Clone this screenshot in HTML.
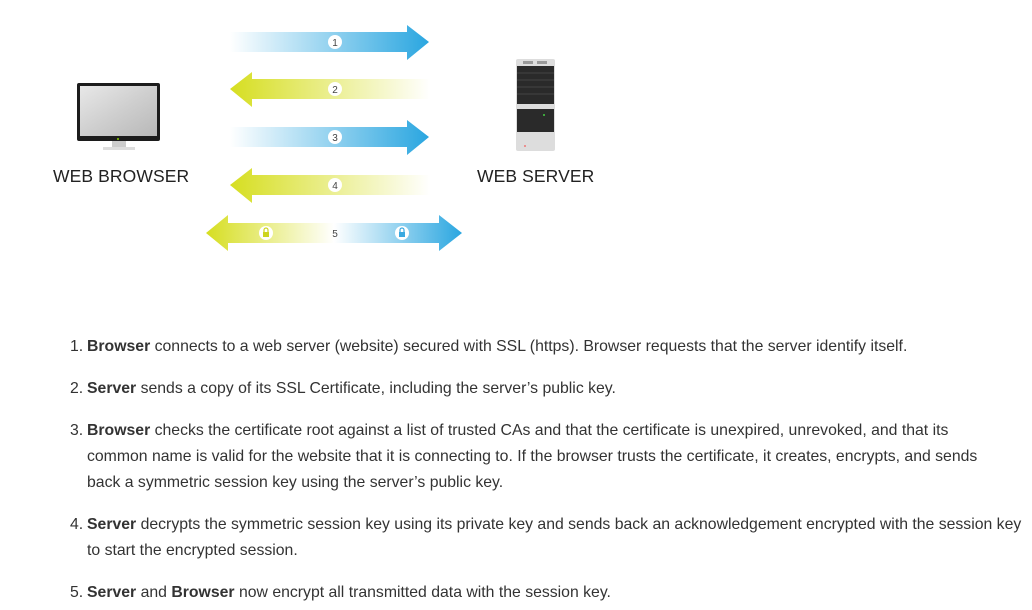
<!DOCTYPE html>
<html><head><meta charset="utf-8"><style>
body{margin:0;width:1032px;height:610px;background:#fff;position:relative;overflow:hidden;font-family:"Liberation Sans",sans-serif;color:#333}
.lbl{position:absolute;font-size:17.5px;color:#222;letter-spacing:0.1px}
.t{position:absolute;left:70px;font-size:15.8px;line-height:26px;color:#333;white-space:nowrap}
.t .n{position:absolute;left:0}
.t .c{position:absolute;left:17px}
</style></head><body>
<svg width="1032" height="300" style="position:absolute;left:0;top:0">
<defs>
<linearGradient id="b" x1="0" x2="1"><stop offset="0" stop-color="#fff"/><stop offset="1" stop-color="#2aa6e0"/></linearGradient>
<linearGradient id="y" x1="0" x2="1"><stop offset="0" stop-color="#d6de20"/><stop offset="1" stop-color="#fff"/></linearGradient>
<linearGradient id="m" x1="0" x2="1"><stop offset="0" stop-color="#d6de20"/><stop offset="0.5" stop-color="#fff"/><stop offset="1" stop-color="#2aa6e0"/></linearGradient>
<linearGradient id="scr" x1="0" y1="0" x2="1" y2="1"><stop offset="0" stop-color="#e8e8e8"/><stop offset="0.5" stop-color="#cfcfcf"/><stop offset="1" stop-color="#b8b8b8"/></linearGradient>
</defs>
<polygon points="230,32 407,32 407,25 429,42 407,60 407,52 230,52" fill="url(#b)"/>
<polygon points="430,79 252,79 252,72 230,89 252,107 252,99 430,99" fill="url(#y)"/>
<polygon points="230,127 407,127 407,120 429,137 407,155 407,147 230,147" fill="url(#b)"/>
<polygon points="430,175 252,175 252,168 230,185 252,203 252,195 430,195" fill="url(#y)"/>
<polygon points="228,223 439,223 439,215 462,233 439,251 439,243 228,243 228,251 206,233 228,215" fill="url(#m)"/>
<g font-family="Liberation Sans" font-size="10" text-anchor="middle" fill="#444">
<circle cx="335" cy="42" r="7" fill="#fff"/><text x="335" y="46">1</text>
<circle cx="335" cy="89" r="7" fill="#fff"/><text x="335" y="93">2</text>
<circle cx="335" cy="137" r="7" fill="#fff"/><text x="335" y="141">3</text>
<circle cx="335" cy="185" r="7" fill="#fff"/><text x="335" y="189">4</text>
<text x="335" y="237">5</text>
</g>
<circle cx="266" cy="233" r="7" fill="#fff"/><rect x="263" y="232" width="6" height="5" fill="#cdd420"/><path d="M264,232v-2a2,2 0 0 1 4,0v2" stroke="#cdd420" fill="none" stroke-width="1.2"/>
<circle cx="402" cy="233" r="7" fill="#fff"/><rect x="399" y="232" width="6" height="5" fill="#3aa9e0"/><path d="M400,232v-2a2,2 0 0 1 4,0v2" stroke="#3aa9e0" fill="none" stroke-width="1.2"/>
<rect x="77" y="83" width="83" height="58" rx="2" fill="#1c1c1c"/>
<rect x="80" y="86" width="77" height="50" fill="url(#scr)"/>
<rect x="112" y="141" width="14" height="6" fill="#ccc"/>
<rect x="103" y="147" width="32" height="3" fill="#ddd"/>
<circle cx="118" cy="139" r="1" fill="#8c0"/>
<rect x="516" y="59" width="39" height="92" rx="2" fill="#ddd"/>
<rect x="517" y="66" width="37" height="38" fill="#2a2a2a"/>
<g stroke="#444" stroke-width="1"><line x1="517" y1="73" x2="554" y2="73"/><line x1="517" y1="80" x2="554" y2="80"/><line x1="517" y1="87" x2="554" y2="87"/><line x1="517" y1="94" x2="554" y2="94"/></g>
<rect x="517" y="109" width="37" height="23" fill="#2a2a2a"/>
<rect x="523" y="61" width="10" height="3" fill="#999"/><rect x="537" y="61" width="10" height="3" fill="#999"/>
<circle cx="544" cy="115" r="1" fill="#4c4"/><circle cx="525" cy="146" r="1" fill="#e77"/>
</svg>
<div class="lbl" style="left:53px;top:166px">WEB BROWSER</div>
<div class="lbl" style="left:477px;top:166px">WEB SERVER</div>
<div class="t" style="top:334px"><span class="n">1.</span><span class="c"><b>Browser</b> connects to a web server (website) secured with SSL (https). Browser requests that the server identify itself.</span></div>
<div class="t" style="top:376px"><span class="n">2.</span><span class="c"><b>Server</b> sends a copy of its SSL Certificate, including the server’s public key.</span></div>
<div class="t" style="top:418px"><span class="n">3.</span><span class="c"><b>Browser</b> checks the certificate root against a list of trusted CAs and that the certificate is unexpired, unrevoked, and that its<br>common name is valid for the website that it is connecting to. If the browser trusts the certificate, it creates, encrypts, and sends<br>back a symmetric session key using the server’s public key.</span></div>
<div class="t" style="top:512px"><span class="n">4.</span><span class="c"><b>Server</b> decrypts the symmetric session key using its private key and sends back an acknowledgement encrypted with the session key<br>to start the encrypted session.</span></div>
<div class="t" style="top:580px"><span class="n">5.</span><span class="c"><b>Server</b> and <b>Browser</b> now encrypt all transmitted data with the session key.</span></div>
</body></html>
